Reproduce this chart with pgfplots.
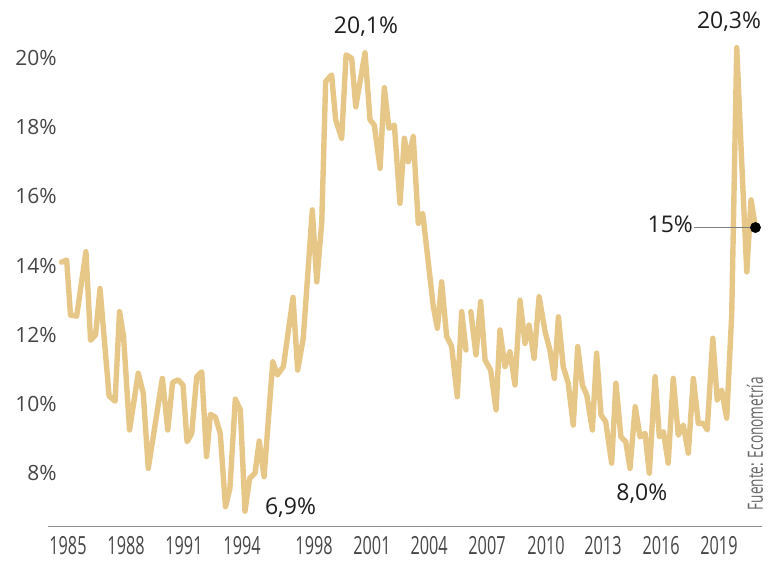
\documentclass[border=0pt]{standalone}
\usepackage{pgfplots}
\pgfplotsset{compat=1.18}
\usepackage{fontspec}
\setmainfont{Open Sans}
\newfontfamily\condfont{Open Sans}[FakeStretch=0.65]
\definecolor{linecol}{RGB}{231,199,136}
\definecolor{ticklab}{RGB}{70,70,70}
\definecolor{annot}{RGB}{30,30,30}
\begin{document}
\begin{tikzpicture}
\useasboundingbox (-23.85pt,-22.15pt) rectangle (364.15pt,263.35pt);
\begin{axis}[
  at={(0,0)}, anchor=south west,
  scale only axis, width=357pt, height=263.35pt,
  xmin=1984.259, xmax=2021.254,
  ymin=6.454, ymax=21.676,
  clip=false,
  axis x line*=bottom, axis y line*=left,
  x axis line style={draw=black!45, line width=0.7pt, -},
  y axis line style={draw=none},
  xtick style={draw=none}, ytick style={draw=none},
  xtick={1985.31,1988.32,1991.32,1994.33,1998.06,2001.06,2004.02,2007.02,2010.08,2013.03,2016.04,2019.04},
  xticklabels={1985,1988,1991,1994,1998,2001,2004,2007,2010,2013,2016,2019},
  ytick={8,10,12,14,16,18,20},
  yticklabels={8\%,10\%,12\%,14\%,16\%,18\%,20\%},
  xticklabel style={font=\condfont\fontsize{12.5pt}{14pt}\selectfont, text=ticklab, anchor=north, yshift=-1.5pt},
  yticklabel style={font=\fontsize{10.5pt}{12pt}\selectfont, text=ticklab, anchor=east, xshift=8pt},
  unbounded coords=jump,
]
\addplot[color=linecol, line width=2.7pt, line join=round, line cap=round] coordinates {
(1984.98,14.10) (1985.24,14.16) (1985.44,12.57) (1985.76,12.54) (1986.24,14.40)
(1986.48,11.84) (1986.74,12.00) (1986.97,13.34) (1987.44,10.23) (1987.75,10.08)
(1987.98,12.67) (1988.19,11.95) (1988.50,9.25) (1988.95,10.89) (1989.21,10.31)
(1989.47,8.14) (1990.20,10.74) (1990.48,9.25) (1990.73,10.62) (1991.01,10.70)
(1991.27,10.55) (1991.48,8.91) (1991.72,9.15) (1991.98,10.79) (1992.24,10.93)
(1992.49,8.48) (1992.69,9.70) (1992.95,9.62) (1993.20,9.15) (1993.47,7.03)
(1993.70,7.56) (1993.98,10.14) (1994.24,9.83) (1994.48,6.90) (1994.72,7.85)
(1995.00,8.00) (1995.22,8.93) (1995.47,7.90) (1995.92,11.22) (1996.16,10.84)
(1996.47,11.08) (1996.97,13.08) (1997.21,10.98) (1997.50,11.90) (1997.97,15.61)
(1998.20,13.53) (1998.46,15.27) (1998.66,19.32) (1998.97,19.51) (1999.18,18.21)
(1999.49,17.68) (1999.72,20.09) (2000.01,19.99) (2000.22,18.59) (2000.70,20.15)
(2000.96,18.21) (2001.18,18.06) (2001.48,16.81) (2001.70,19.14) (2001.94,17.97)
(2002.22,18.06) (2002.51,15.80) (2002.74,17.68) (2002.94,17.00) (2003.20,17.73)
(2003.46,15.22) (2003.69,15.51) (2004.24,12.81) (2004.45,12.19) (2004.67,13.53)
(2004.93,11.95) (2005.19,11.66) (2005.48,10.21) (2005.71,12.67) (2005.93,11.56)
(2006.05,nan)
(2006.18,12.67) (2006.45,11.42) (2006.69,12.96) (2006.92,11.27) (2007.21,10.98)
(2007.49,9.83) (2007.69,12.14) (2007.95,11.08) (2008.21,11.51) (2008.47,10.55)
(2008.73,13.00) (2008.99,11.75) (2009.20,12.28) (2009.46,11.32) (2009.72,13.10)
(2010.03,12.09) (2010.28,11.56) (2010.51,10.74) (2010.72,12.52) (2010.97,11.08)
(2011.23,10.60) (2011.49,9.39) (2011.72,11.66) (2011.96,10.55) (2012.19,10.26)
(2012.48,9.25) (2012.70,11.47) (2012.93,9.68) (2013.17,9.49) (2013.48,8.29)
(2013.70,10.60) (2013.96,9.05) (2014.21,8.91) (2014.43,8.14) (2014.70,9.92)
(2014.95,9.05) (2015.21,9.15) (2015.43,8.00) (2015.73,10.79) (2015.95,9.05)
(2016.16,9.20) (2016.41,8.29) (2016.67,10.74) (2016.93,9.10) (2017.19,9.39)
(2017.45,8.58) (2017.71,10.74) (2017.97,9.44) (2018.23,9.44) (2018.43,9.25)
(2018.72,11.90) (2018.95,10.12) (2019.18,10.40) (2019.44,9.59) (2019.70,12.60)
(2019.96,20.30) (2020.22,16.96) (2020.48,13.82) (2020.70,15.90) (2020.93,15.10)
};
\addplot[color=black!50, line width=0.5pt] coordinates {(2017.76,15.10) (2020.93,15.10)};
\addplot[only marks, mark=*, mark size=2.5pt, color=black] coordinates {(2020.93,15.10)};
\node[font=\fontsize{11.5pt}{13pt}\selectfont, text=annot] at (axis cs:2000.75,20.90) {20,1\%};
\node[font=\fontsize{11.5pt}{13pt}\selectfont, text=annot] at (axis cs:1996.84,7.01) {6,9\%};
\node[font=\fontsize{11.5pt}{13pt}\selectfont, text=annot] at (axis cs:2015.04,7.40) {8,0\%};
\node[font=\fontsize{11.5pt}{13pt}\selectfont, text=annot] at (axis cs:2019.56,21.04) {20,3\%};
\node[font=\fontsize{11.5pt}{13pt}\selectfont, text=annot, anchor=east, inner sep=0.5pt] at (axis cs:2017.76,15.20) {15\%};
\node[font=\condfont\fontsize{10.5pt}{12pt}\selectfont, text=black!60, rotate=90] at (axis cs:2020.90,8.85) {Fuente: Econometría};
\end{axis}
\end{tikzpicture}
\end{document}
